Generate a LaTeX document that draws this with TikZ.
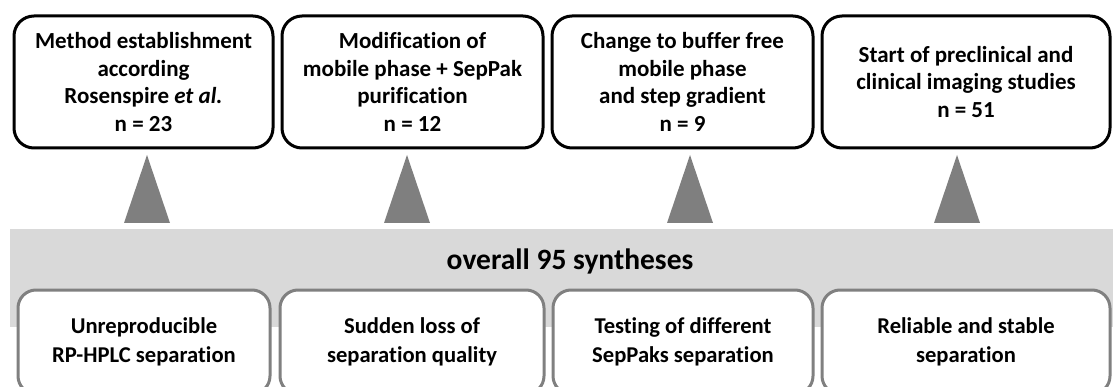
\documentclass[tikz,border=0pt]{standalone}
\usepackage{fontspec}
\setmainfont{Carlito}[Ligatures=NoCommon]
\definecolor{bandgray}{HTML}{D9D9D9}
\definecolor{arrowgray}{HTML}{7F7F7F}
\definecolor{framegray}{HTML}{808080}
\tikzset{
  stagebox/.style={draw=black, line width=3pt, rounded corners=20pt, fill=white,
    align=center, inner sep=0pt, font=\bfseries\fontsize{23}{27.7}\selectfont},
  issuebox/.style={draw=framegray, line width=3pt, rounded corners=18pt, fill=white,
    align=center, inner sep=0pt, font=\bfseries\fontsize{22.6}{29}\selectfont},
  pointer/.style={fill=arrowgray, draw=none},
  bandtext/.style={font=\bfseries\fontsize{29.5}{32}\selectfont, inner sep=0pt}
}
\begin{document}
\begin{tikzpicture}[x=1pt, y=-1pt]
  \useasboundingbox (0,0) rectangle (1113,387);
  \clip (0,0) rectangle (1113,387);

  % summary band
  \fill[bandgray] (10,229) rectangle (1113,327);
  \node[bandtext] (band) at (570,261) {overall 95 syntheses};

  % problems encountered at each stage
  \node[issuebox, minimum width=252pt, minimum height=104pt] (b1) at (144,342)
    {Unreproducible\\RP-HPLC separation};
  \node[issuebox, minimum width=264pt, minimum height=104pt] (b2) at (412,342)
    {Sudden loss of\\separation quality};
  \node[issuebox, minimum width=260pt, minimum height=104pt] (b3) at (683,342)
    {Testing of different\\SepPaks separation};
  \node[issuebox, minimum width=288pt, minimum height=104pt] (b4) at (966,342)
    {Reliable and stable\\separation};

  % stages of the method development
  \node[stagebox, minimum width=259pt, minimum height=132pt] (t1) at (143.5,82)
    {Method establishment\\according\\Rosenspire \textit{et al.}\\n = 23};
  \node[stagebox, minimum width=261pt, minimum height=132pt] (t2) at (412.5,82)
    {Modification of\\mobile phase + SepPak\\purification\\n = 12};
  \node[stagebox, minimum width=261pt, minimum height=132pt] (t3) at (682.5,82)
    {Change to buffer free\\mobile phase\\and step gradient\\n = 9};
  \node[stagebox, minimum width=288pt, minimum height=132pt] (t4) at (966,82)
    {Start of preclinical and\\clinical imaging studies\\n = 51};

  % upward pointers from the band to each stage
  \foreach \name/\cx in {p1/147, p2/407, p3/690, p4/957}{
    \coordinate (\name-apex) at (\cx,155);
    \coordinate (\name-left) at (\cx-23,223);
    \coordinate (\name-right) at (\cx+23,223);
    \fill[pointer] (\name-left) -- (\name-apex) -- (\name-right) -- cycle;
  }
\end{tikzpicture}
\end{document}
